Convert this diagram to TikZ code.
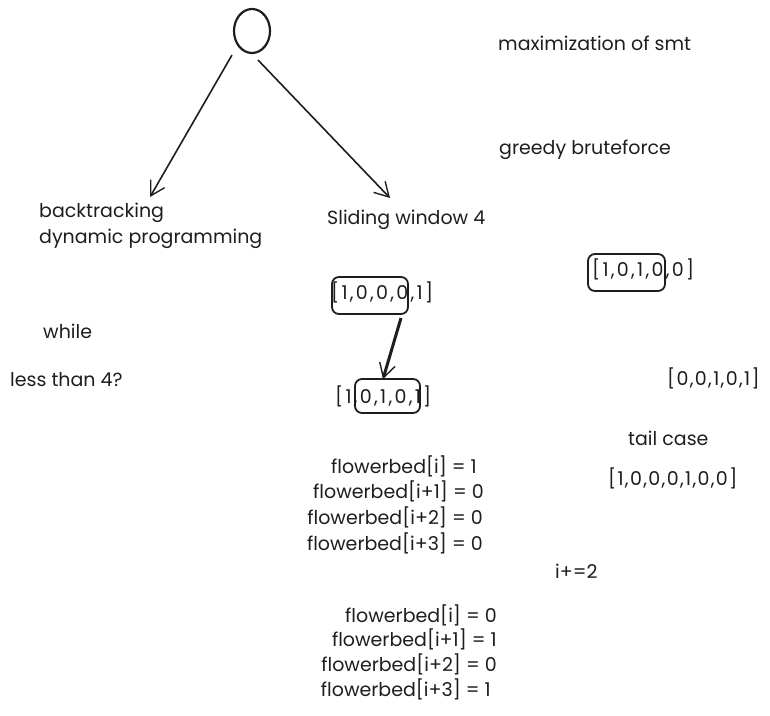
\documentclass[tikz,border=0pt]{standalone}
\usepackage{fontspec}
\setmainfont{Poppins}
\usetikzlibrary{arrows.meta,shapes.geometric}
\definecolor{ink}{HTML}{1E1E1E}
\tikzset{
  lbl/.style={inner sep=0pt, text=ink, font=\fontsize{19}{22}\selectfont, text height=13pt, text depth=4pt},
  lw/.style={lbl, anchor=west},
  le/.style={lbl, anchor=east},
  aw/.style={lw, font=\fontsize{19}{22}\selectfont\addfontfeature{LetterSpace=12}},
  an/.style={lw, font=\fontsize{19}{22}\selectfont\addfontfeature{LetterSpace=7}},
  arr/.style={draw=ink, line width=1.6pt, -{Straight Barb[length=14pt,width=16pt,line width=1.4pt]}},
  rbox/.style={draw=ink, line width=1.8pt, rounded corners=7pt},
}
\begin{document}
\begin{tikzpicture}[x=1pt,y=-1pt]
\useasboundingbox[fill=white] (0,0) rectangle (770,715);
% root circle
\node (root) [draw=ink, line width=2.2pt, ellipse, minimum width=36pt, minimum height=44pt, inner sep=0pt] at (252,31) {};
\coordinate (r1) at (232,55);
\coordinate (r2) at (258,60);
% labels
\node[lw] (bt) at (39,213) {backtracking};
\node[lw] (dp) at (39,239) {dynamic programming};
\node[lw] (sw) at (327,220) {Sliding window 4};
\node[lw] (max) at (498,46) {maximization of smt};
\node[lw] (gb) at (499,150) {greedy bruteforce};
\coordinate (a1) at (150,197);
\coordinate (a2) at (390,198);
\draw[arr] (r1) -- (a1);
\draw[arr] (r2) -- (a2);
% arrays
\node[aw] (arr1) at (331,295) {[1,0,0,0,1]};
\draw[rbox] (332,277) rectangle (408,314);
\coordinate (b1) at (401,318);
\coordinate (b2) at (383,379);
\node[aw] (arr2) at (335,399) {[1,0,1,0,1]};
\draw[rbox] (355,379) rectangle (420,413);
\draw[arr, line width=3pt] (b1) -- (b2);
\node[aw] (arr3) at (592,272) {[1,0,1,0,0]};
\draw[rbox] (588,254) rectangle (665,291);
\node[lw] (wh) at (43,334) {while};
\node[lw] (lt) at (10,382) {less than 4?};
\node[an] (arr4) at (667,381) {[0,0,1,0,1]};
\node[lw] (tc) at (628,441) {tail case};
\node[an] (arr5) at (608,481) {[1,0,0,0,1,0,0]};
\node[lw] (inc) at (555,574) {i+=2};
% flowerbed block 1
\node[le] (f1) at (477,469) {flowerbed[i] = 1};
\node[le] (f2) at (484,494) {flowerbed[i+1] = 0};
\node[le] (f3) at (483,520) {flowerbed[i+2] = 0};
\node[le] (f4) at (483,546) {flowerbed[i+3] = 0};
% flowerbed block 2
\node[le] (g1) at (497,618) {flowerbed[i] = 0};
\node[le] (g2) at (497,642) {flowerbed[i+1] = 1};
\node[le] (g3) at (497,667) {flowerbed[i+2] = 0};
\node[le] (g4) at (491,692) {flowerbed[i+3] = 1};
\end{tikzpicture}
\end{document}
